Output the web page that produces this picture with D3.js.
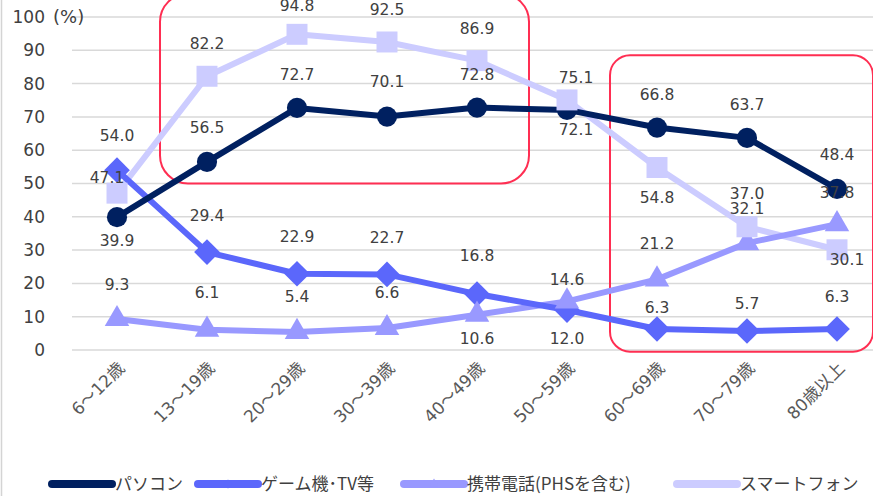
<!DOCTYPE html>
<html>
<head>
<meta charset="utf-8">
<script src="https://cdn.jsdelivr.net/npm/d3@7"></script>
<style>
  body { margin: 0; background: #fff; }
  svg { display: block; font-family: "DejaVu Sans", "Noto Sans CJK JP", sans-serif; }
</style>
</head>
<body>
<div id="chart"></div>
<script>
// Categories (age groups)
const categories = ['6～12歳', '13～19歳', '20～29歳', '30～39歳', '40～49歳', '50～59歳', '60～69歳', '70～79歳', '80歳以上'];

// Series values (%)
const pcValues = [39.9, 56.5, 72.7, 70.1, 72.8, 72.1, 66.8, 63.7, 48.4];
const gameValues = [54.0, 29.4, 22.9, 22.7, 16.8, 12.0, 6.3, 5.7, 6.3];
const mobileValues = [9.3, 6.1, 5.4, 6.6, 10.6, 14.6, 21.2, 32.1, 37.8];
const smartphoneValues = [47.1, 82.2, 94.8, 92.5, 86.9, 75.1, 54.8, 37.0, 30.1];

const seriesNames = ['パソコン', 'ゲーム機･TV等', '携帯電話(PHSを含む)', 'スマートフォン'];

// Y axis ticks
const yTicks = [0, 10, 20, 30, 40, 50, 60, 70, 80, 90, 100];

// Highlighted ranges (red rounded boxes)
const highlightFrom = ['13～19歳', '60～69歳'];
const highlightTo = ['40～49歳', '80歳以上'];
const highlightLow = [50, -0.5];
const highlightHigh = [107, 88.5];

// Label nudges (px, relative to each point) - layout only
const pcLabelDy = [23, -34, -33, -35, -33, 20, -33, -33, -34];
const pcLabelDx = [0, 0, 0, 0, 0, 9, 0, 0, 0];
const gameLabelDy = [-35, -37, -37, -37, -38, 29, -21, -27, -32];
const gameLabelDx = [0, 0, 0, 0, 0, 0, 0, 0, 0];
const mobileLabelDy = [-34, -37, -35, -35, 24, -22, -36, -35, -32];
const mobileLabelDx = [0, 0, 0, 0, 0, 0, 0, 0, 0];
const smartLabelDy = [-16, -33, -29, -32, -32, -22, 30, -33, 10];
const smartLabelDx = [-10, 0, 0, 0, 0, 9, 0, 0, 10];

const width = 873, height = 496;

const svg = d3.select('#chart').append('svg')
    .attr('width', width)
    .attr('height', height);

// Scales
const x = d3.scalePoint()
    .domain(categories)
    .range([72, 882])
    .padding(0.5);

const y = d3.scaleLinear()
    .domain([0, 100])
    .range([350, 17]);

// Left border line
svg.append('line')
    .attr('x1', 1.5).attr('x2', 1.5)
    .attr('y1', 0).attr('y2', height)
    .attr('stroke', '#d4d4d4')
    .attr('stroke-width', 1.5);

// Grid lines
svg.append('g')
    .selectAll('line')
    .data(yTicks)
    .enter()
    .append('line')
    .attr('x1', 72)
    .attr('x2', 882)
    .attr('y1', d => y(d))
    .attr('y2', d => y(d))
    .attr('stroke', '#d9d9d9')
    .attr('stroke-width', 1.5);

// Y axis (labels only)
const yAxis = svg.append('g')
    .attr('transform', 'translate(45,0)')
    .call(d3.axisLeft(y).tickValues(yTicks).tickSize(0).tickPadding(0));
yAxis.select('.domain').remove();
yAxis.selectAll('text')
    .style('font-family', '"DejaVu Sans", sans-serif')
    .style('font-size', '17px')
    .style('fill', '#404040');

svg.append('text')
    .attr('x', 53)
    .attr('y', y(100))
    .attr('dy', '0.35em')
    .style('font-size', '18px')
    .style('fill', '#404040')
    .text('(%)');

// X axis labels (rotated)
const xAxis = svg.append('g')
    .attr('transform', 'translate(0,365)')
    .call(d3.axisBottom(x).tickSize(0).tickPadding(0));
xAxis.select('.domain').remove();
xAxis.selectAll('text')
    .attr('transform', 'translate(4,0) rotate(-45)')
    .attr('dy', '0.35em')
    .style('text-anchor', 'end')
    .style('font-family', '"DejaVu Sans", "Noto Sans CJK JP", sans-serif')
    .style('font-size', '17px')
    .style('fill', '#595959');

// Red highlight boxes
highlightFrom.forEach((from, i) => {
    const x0 = x(from) - 47;
    const x1 = x(highlightTo[i]) + (i === 0 ? 52 : 36);
    const y0 = y(highlightHigh[i]);
    const y1 = y(highlightLow[i]);
    svg.append('rect')
        .attr('x', x0)
        .attr('y', y0)
        .attr('width', x1 - x0)
        .attr('height', y1 - y0)
        .attr('rx', i === 0 ? 28 : 20)
        .attr('fill', 'none')
        .attr('stroke', '#ff2e52')
        .attr('stroke-width', 2);
});

// Series definitions (diamond = square turned 45deg)
const series = [
    { name: seriesNames[0], values: pcValues, color: '#002060', marker: d3.symbolCircle, size: 320, rot: 0, dx: pcLabelDx, dy: pcLabelDy },
    { name: seriesNames[1], values: gameValues, color: '#5b67fb', marker: d3.symbolSquare, size: 330, rot: 45, dx: gameLabelDx, dy: gameLabelDy },
    { name: seriesNames[2], values: mobileValues, color: '#9999ff', marker: d3.symbolTriangle, size: 260, rot: 0, dx: mobileLabelDx, dy: mobileLabelDy },
    { name: seriesNames[3], values: smartphoneValues, color: '#ccccff', marker: d3.symbolSquare, size: 440, rot: 0, dx: smartLabelDx, dy: smartLabelDy }
];

const line = d3.line()
    .x((d, i) => x(categories[i]))
    .y(d => y(d));

// Lines first, then markers
series.slice().reverse().forEach(s => {
    svg.append('path')
        .datum(s.values)
        .attr('d', line)
        .attr('fill', 'none')
        .attr('stroke', s.color)
        .attr('stroke-width', 6)
        .attr('stroke-linejoin', 'round');
});

series.forEach(s => {
    svg.append('g')
        .selectAll('path')
        .data(s.values)
        .enter()
        .append('path')
        .attr('d', d3.symbol().type(s.marker).size(s.size))
        .attr('transform', (d, i) => `translate(${x(categories[i])},${y(d)}) rotate(${s.rot})`)
        .attr('fill', s.color);
});

// Data labels
series.forEach(s => {
    svg.append('g')
        .selectAll('text')
        .data(s.values)
        .enter()
        .append('text')
        .attr('x', (d, i) => x(categories[i]) + s.dx[i])
        .attr('y', (d, i) => y(d) + s.dy[i])
        .attr('dy', '0.35em')
        .attr('text-anchor', 'middle')
        .style('font-size', '15.5px')
        .style('fill', '#404040')
        .text(d => d.toFixed(1));
});

// Legend
const legendX = [52, 198, 404, 677];
const legend = svg.append('g')
    .attr('transform', 'translate(0,484)');

series.forEach((s, i) => {
    const item = legend.append('g')
        .attr('transform', `translate(${legendX[i]},0)`);

    item.append('line')
        .attr('x1', 0)
        .attr('x2', 60)
        .attr('stroke', s.color)
        .attr('stroke-width', 8)
        .attr('stroke-linecap', 'round');

    item.append('path')
        .attr('d', d3.symbol().type(s.marker).size(40))
        .attr('transform', `translate(30,0) rotate(${s.rot})`)
        .attr('fill', s.color);

    item.append('text')
        .attr('x', 63)
        .attr('dy', '0.35em')
        .style('font-family', '"Noto Sans CJK JP", sans-serif')
        .style('font-size', '17px')
        .style('fill', '#404040')
        .text(s.name);
});
</script>
</body>
</html>
